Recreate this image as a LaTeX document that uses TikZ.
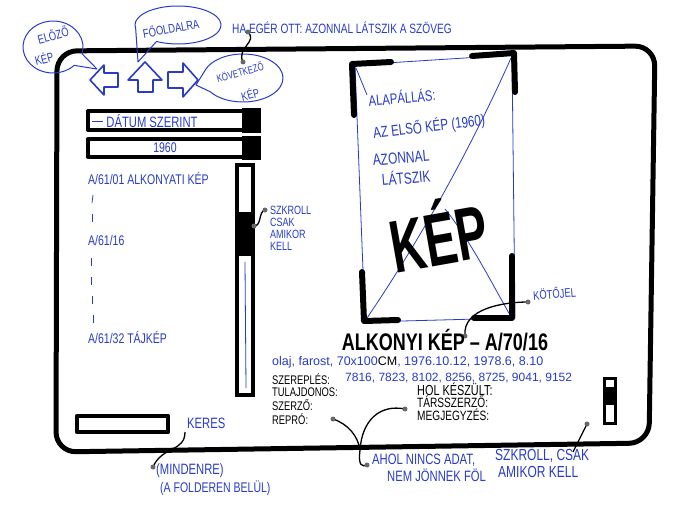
\documentclass[tikz,border=0pt]{standalone}
\usepackage{fontspec}
\usepackage{graphicx}
\setmainfont{Liberation Sans}
\newfontfamily\hand[FakeStretch=0.75]{Liberation Sans}
\usetikzlibrary{calc}
\definecolor{ink}{RGB}{40,60,200}
\definecolor{pin}{RGB}{105,105,105}
\newcommand{\fs}[1]{\fontsize{#1}{#1}\selectfont}
\begin{document}
\begin{tikzpicture}[x=1pt,y=1pt,
  bl/.style={text=ink, font=\hand\fs{14}, inner sep=0pt},
  bk/.style={text=black, font=\hand\fs{12.5}, inner sep=0pt},
  marker/.style={line width=4pt, black, line cap=round, line join=round},
  bracket/.style={line width=6pt, black, line cap=round, line join=round},
  thinink/.style={ink, line width=0.8pt},
  bubble/.style={ink, line width=1pt, line join=round},
  navarrow/.style={ink, line width=1.6pt, line join=round},
  pinline/.style={pin, line width=1.3pt},
  pindot/.style={circle, fill=pin, inner sep=0pt, minimum size=5pt},
  tick/.style={ink, line width=0.8pt},
]
\useasboundingbox (0,0) rectangle (700,-513);
\fill[white] (0,0) rectangle (700,-513);

% window
\draw[line width=5pt, rounded corners=20pt] (57,-51) -- (655,-46) -- (649,-443) -- (56,-452) -- cycle;

% navigation arrows
\draw[navarrow] (90,-80) -- (104,-65) -- (104,-73) -- (118,-73) -- (118,-87) -- (104,-87) -- (104,-95) -- cycle;
\draw[navarrow] (145,-62) -- (162,-80) -- (153,-80) -- (153,-92) -- (138,-92) -- (138,-80) -- (128,-80) -- cycle;
\draw[navarrow] (198,-80) -- (183,-63) -- (183,-72) -- (168,-72) -- (168,-88) -- (183,-88) -- (183,-97) -- cycle;

% speech bubbles
\draw[bubble] (53,-47) ++(-15:30pt and 26pt) arc[start angle=-15, end angle=315, x radius=30pt, y radius=26pt] -- (97,-69) -- cycle;
\draw[bubble] (178,-25) ++(240:43pt and 19pt) arc[start angle=240, end angle=550, x radius=43pt, y radius=19pt] -- (138,-62) -- cycle;
\draw[bubble] (243,-78) ++(215:40pt and 24pt) arc[start angle=215, end angle=520, x radius=40pt, y radius=24pt] -- (196,-85) -- cycle;

\node[bl, rotate=15, font=\hand\fs{12.5}] (elozo) at (53,-35) {ELŐZŐ};
\node[bl, rotate=15, font=\hand\fs{12.5}] (elozokep) at (44,-58) {KÉP};
\node[bl, rotate=10, font=\hand\fs{12.5}] (fooldal) at (171,-28) {FŐOLDALRA};
\node[bl, rotate=15, font=\hand\fs{10.5}] (kovetkezo) at (240,-72) {KÖVETKEZŐ};
\node[bl, rotate=15, font=\hand\fs{12}] (kovkep) at (250,-94) {KÉP};

\node[bl, anchor=west, font=\hand\fs{13.5}] (haeger) at (232,-28) {HA EGÉR OTT: AZONNAL LÁTSZIK A SZÖVEG};
\coordinate (p1a) at (248,-32);
\coordinate (p1b) at (243,-62);
\draw[pinline] (p1a) .. controls (258,-42) and (236,-48) .. (p1b);
\node[pindot] (p1adot) at (p1a) {};
\node[pindot] (p1bdot) at (p1b) {};

% dropdowns
\draw[marker] (88,-111) rectangle (259,-130);
\fill (242,-108) rectangle (261,-133);
\draw[thinink] (92,-121) -- (103,-121);
\node[bl, font=\hand\fs{15}] (datum) at (152,-121) {DÁTUM SZERINT};
\draw[marker] (88,-139) rectangle (259,-157);
\fill (242,-136) rectangle (261,-160);
\node[bl] (ev) at (165,-148) {1960};

% list
\node[bl, anchor=west] (item1) at (88,-178) {A/61/01 ALKONYATI KÉP};
\draw[tick] (93,-195) -- (92,-203);
\draw[tick] (92,-214) -- (92,-222);
\node[bl, anchor=west] (item16) at (88,-240) {A/61/16};
\draw[tick] (91,-258) -- (91,-266);
\draw[tick] (91,-277) -- (91,-285);
\draw[tick] (92,-296) -- (92,-304);
\draw[tick] (93,-315) -- (93,-323);
\node[bl, anchor=west] (item32) at (88,-337) {A/61/32 TÁJKÉP};

% left scrollbar
\draw[line width=3.5pt] (237,-165) rectangle (253,-395);
\fill (237,-212) rectangle (253,-256);
\draw[thinink] (245,-262) -- (246,-388);
\coordinate (p2a) at (254,-226);
\coordinate (p2b) at (265,-210);
\draw[pinline] (p2a) .. controls (262,-226) and (258,-212) .. (p2b);
\node[pindot] (p2adot) at (p2a) {};
\node[pindot] (p2bdot) at (p2b) {};
\node[bl, anchor=west, font=\hand\fs{12}] (sz1) at (270,-210) {SZKROLL};
\node[bl, anchor=west, font=\hand\fs{12}] (sz2) at (270,-222) {CSAK};
\node[bl, anchor=west, font=\hand\fs{12}] (sz3) at (270,-234) {AMIKOR};
\node[bl, anchor=west, font=\hand\fs{12}] (sz4) at (270,-246) {KELL};

% search
\draw[marker, line width=4.5pt] (77,-416) rectangle (168,-432);
\node[bl, anchor=west, font=\hand\fs{15}] (keres) at (187,-423) {KERES};
\coordinate (p3a) at (185,-432);
\coordinate (p3b) at (153,-467);
\draw[pinline] (p3a) .. controls (185,-452) and (162,-446) .. (p3b);
\node[pindot] (p3bdot) at (p3b) {};
\node[bl, anchor=west, font=\hand\fs{15}] (mind1) at (156,-471) {(MINDENRE)};
\node[bl, anchor=west] (mind2) at (160,-488) {(A FOLDEREN BELÜL)};

% image frame
\draw[thinink] (355,-65) -- (512,-55) -- (515,-318) -- (365,-322) -- cycle;
\draw[thinink] (511,-58) .. controls (470,-150) and (420,-240) .. (367,-318);
\draw[thinink] (356,-68) -- (367,-95);
\draw[thinink] (445,-209) .. controls (470,-240) and (490,-280) .. (510,-315);
\draw[bracket] (391,-62) -- (352,-64) -- (354,-115);
\draw[bracket] (472,-56) -- (514,-53) -- (515,-92);
\draw[bracket] (362,-272) -- (364,-321) -- (398,-320);
\draw[bracket] (512,-256) -- (512,-318) -- (474,-318);

\node[bl, rotate=5, font=\hand\fs{15}] (alap) at (402,-97) {ALAPÁLLÁS:};
\node[bl, rotate=7, font=\hand\fs{15.5}] (elso) at (429,-127) {AZ ELSŐ KÉP (1960)};
\node[bl, rotate=5, font=\hand\fs{16}] (azonnal) at (401,-158) {AZONNAL};
\node[bl, rotate=5, font=\hand\fs{16}] (latszik) at (406,-177) {LÁTSZIK};
\node[rotate=10, inner sep=0pt] (kep) at (438,-232) {\resizebox{98pt}{66pt}{\hand\bfseries KÉP}};

\node[bl, rotate=5, anchor=west, font=\hand\fs{12.5}] (kotojel) at (533,-295) {KÖTŐJEL};
\coordinate (p4a) at (528,-302);
\coordinate (p4b) at (465,-336);
\draw[pinline] (p4a) .. controls (505,-302) and (462,-308) .. (p4b);
\node[pindot] (p4adot) at (p4a) {};
\node[pindot] (p4bdot) at (p4b) {};

% info
\node[font=\hand\bfseries\fs{24}, inner sep=0pt] (title) at (445,-340) {ALKONYI KÉP – A/70/16};
\node[bl, anchor=west, font=\fs{12.5}] (tech) at (272,-362) {olaj, farost, 70x100\textcolor{black}{CM}, 1976.10.12, 1978.6, 8.10};
\node[bk, anchor=west] (szerep) at (272,-379) {SZEREPLÉS:};
\node[bl, anchor=west, font=\fs{12}] (szerepn) at (345,-378) {7816, 7823, 8102, 8256, 8725, 9041, 9152};
\node[bk, anchor=west] (tulaj) at (272,-392) {TULAJDONOS:};
\node[bk, anchor=west] (szerzo) at (272,-405) {SZERZŐ:};
\node[bk, anchor=west] (repro) at (272,-419) {REPRÓ:};
\node[bk, anchor=west, font=\hand\fs{14.5}] (hol) at (417,-389) {HOL KÉSZÜLT:};
\node[bk, anchor=west, font=\hand\fs{13.5}] (tars) at (417,-402) {TÁRSSZERZŐ:};
\node[bk, anchor=west, font=\hand\fs{13.5}] (megj) at (417,-415) {MEGJEGYZÉS:};

\coordinate (p5a) at (333,-419);
\coordinate (p5b) at (405,-409);
\coordinate (p5j) at (360,-450);
\coordinate (p5c) at (367,-465);
\draw[pinline] (p5a) .. controls (348,-424) and (358,-436) .. (p5j);
\draw[pinline] (p5b) .. controls (380,-404) and (362,-420) .. (p5j);
\draw[pinline] (p5j) .. controls (358,-466) and (362,-467) .. (p5c);
\node[pindot] (p5adot) at (p5a) {};
\node[pindot] (p5bdot) at (p5b) {};
\node[pindot] (p5cdot) at (p5c) {};
\node[bl, anchor=west, font=\hand\fs{15}] (ahol1) at (372,-460) {AHOL NINCS ADAT,};
\node[bl, anchor=west, font=\hand\fs{15}] (ahol2) at (387,-475) {NEM JÖNNEK FÖL};

% right mini scrollbar
\draw[line width=3pt] (604,-378) rectangle (615,-423);
\fill (604,-387) rectangle (615,-405);
\coordinate (p6a) at (587,-424);
\coordinate (p6b) at (573,-452);
\draw[pinline] (p6a) -- (p6b);
\node[pindot] (p6adot) at (p6a) {};
\node[bl, anchor=west, font=\hand\fs{16}] (szr1) at (495,-456) {SZKROLL, CSAK};
\node[bl, anchor=west, font=\hand\fs{16}] (szr2) at (498,-472) {AMIKOR KELL};
\end{tikzpicture}
\end{document}
